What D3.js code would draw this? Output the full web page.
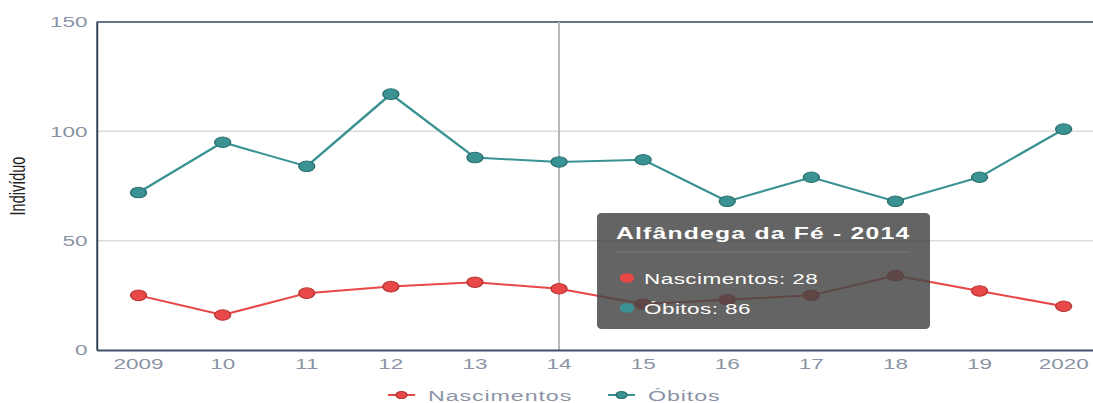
<!DOCTYPE html>
<html>
<head>
<meta charset="utf-8">
<script src="https://cdn.jsdelivr.net/npm/d3@7"></script>
<style>
  body { margin: 0; background: #fff; }
  svg { display: block; font-family: "Liberation Sans", Arial, sans-serif; }
</style>
</head>
<body>
<div id="chart"></div>
<script>
// data
const years = ["2009", "10", "11", "12", "13", "14", "15", "16", "17", "18", "19", "2020"];
const nascimentos = [25, 16, 26, 29, 31, 28, 21, 23, 25, 34, 27, 20];
const obitos = [72, 95, 84, 117, 88, 86, 87, 68, 79, 68, 79, 101];
const yTicks = [0, 50, 100, 150];
const seriesNames = ["Nascimentos", "Óbitos"];
const yLabel = "Indivíduo";
const tooltipTitle = "Alfândega da Fé - 2014";
const hoverIndex = 5;

const colors = {
  Nascimentos: { fill: "#e84848", stroke: "#b83434", line: "#e84848" },
  "Óbitos": { fill: "#3a9292", stroke: "#2c6f6f", line: "#3a9292" }
};
const tickColor = "#8a94a6";

// the original picture is stretched sideways, so draw in a squeezed viewBox
const W = 1093, H = 403, SX = 1.5;
const vw = W / SX;

const svg = d3.select("#chart")
  .append("svg")
  .attr("width", W)
  .attr("height", H)
  .attr("viewBox", `0 0 ${vw} ${H}`)
  .attr("preserveAspectRatio", "none");

const plotLeft = 96.5 / SX, step = 84.1 / SX;
const plotTop = 22, plotBottom = 350;

const x = d3.scaleBand().domain(years).range([plotLeft, plotLeft + step * years.length]);
const cx = d => x(d) + x.bandwidth() / 2;
const y = d3.scaleLinear().domain([0, 150]).range([plotBottom, plotTop]);

// grid
svg.append("g")
  .selectAll("line")
  .data(yTicks.filter(t => t > 0 && t < 150))
  .join("line")
  .attr("x1", plotLeft).attr("x2", vw)
  .attr("y1", d => y(d)).attr("y2", d => y(d))
  .attr("stroke", "#dcdcdc")
  .attr("stroke-width", 1.5);

// top border
svg.append("line")
  .attr("x1", plotLeft).attr("x2", vw)
  .attr("y1", plotTop).attr("y2", plotTop)
  .attr("stroke", "#66768b")
  .attr("stroke-width", 2);

// hover crosshair
svg.append("line")
  .attr("x1", cx(years[hoverIndex])).attr("x2", cx(years[hoverIndex]))
  .attr("y1", plotTop).attr("y2", plotBottom)
  .attr("stroke", "#b4b8be")
  .attr("stroke-width", 1.3);

// axes
const yAxis = svg.append("g")
  .attr("transform", `translate(${plotLeft},0)`)
  .call(d3.axisLeft(y).tickValues(yTicks).tickSize(0).tickPadding(6));
yAxis.select(".domain").attr("stroke", "#2e3f52").attr("stroke-width", 1.3);
yAxis.selectAll("text")
  .attr("font-size", 15)
  .attr("font-family", "Liberation Sans, Arial, sans-serif")
  .attr("fill", tickColor);

const xAxis = svg.append("g")
  .attr("transform", `translate(0,${plotBottom})`)
  .call(d3.axisBottom(x).tickSize(0).tickPadding(8));
xAxis.select(".domain").attr("stroke", "#3e5068").attr("stroke-width", 1.8);
xAxis.selectAll("text")
  .attr("font-size", 15)
  .attr("font-family", "Liberation Sans, Arial, sans-serif")
  .attr("fill", tickColor);

svg.append("text")
  .attr("transform", `translate(${17 / SX},186) rotate(-90)`)
  .attr("text-anchor", "middle")
  .attr("dy", "0.35em")
  .attr("font-size", 14.5)
  .attr("fill", "#222")
  .text(yLabel);

// series
const series = [
  { name: seriesNames[0], values: nascimentos },
  { name: seriesNames[1], values: obitos }
];

const line = d3.line()
  .x((d, i) => cx(years[i]))
  .y(d => y(d));

series.forEach(s => {
  const c = colors[s.name];
  svg.append("path")
    .datum(s.values)
    .attr("fill", "none")
    .attr("stroke", c.line)
    .attr("stroke-width", 2)
    .attr("d", line);

  svg.append("g")
    .selectAll("circle")
    .data(s.values)
    .join("circle")
    .attr("cx", (d, i) => cx(years[i]))
    .attr("cy", d => y(d))
    .attr("r", 5.3)
    .attr("fill", c.fill)
    .attr("stroke", c.stroke)
    .attr("stroke-width", 1);
});

// tooltip
const tip = svg.append("g");
tip.append("rect")
  .attr("x", 597 / SX).attr("y", 213)
  .attr("width", 333 / SX).attr("height", 116)
  .attr("rx", 3).attr("ry", 4)
  .attr("fill", "rgb(70,70,70)")
  .attr("opacity", 0.84);

tip.append("text")
  .attr("x", 616 / SX).attr("y", 239)
  .attr("font-size", 16.5)
  .attr("font-weight", "bold")
  .attr("letter-spacing", 0.8)
  .attr("fill", "#fff")
  .text(tooltipTitle);

tip.append("line")
  .attr("x1", 616 / SX).attr("x2", 910 / SX)
  .attr("y1", 252).attr("y2", 252)
  .attr("stroke", "#777")
  .attr("stroke-width", 1);

series.forEach((s, k) => {
  const c = colors[s.name];
  const ry = 278 + k * 30;
  tip.append("circle")
    .attr("cx", 627 / SX).attr("cy", ry)
    .attr("r", 4.8)
    .attr("fill", c.fill);
  tip.append("text")
    .attr("x", 644 / SX).attr("y", ry + 6)
    .attr("font-size", 15)
    .attr("letter-spacing", 0.3)
    .attr("fill", "#fff")
    .text(`${s.name}: ${s.values[hoverIndex]}`);
});

// legend
const legendX = [388, 608];
series.forEach((s, k) => {
  const c = colors[s.name];
  const g = svg.append("g");
  const lx = legendX[k] / SX;
  g.append("line")
    .attr("x1", lx).attr("x2", lx + 27 / SX)
    .attr("y1", 395).attr("y2", 395)
    .attr("stroke", c.line)
    .attr("stroke-width", 2);
  g.append("circle")
    .attr("cx", lx + 13.5 / SX).attr("cy", 395)
    .attr("r", 3.6)
    .attr("fill", c.fill)
    .attr("stroke", c.stroke)
    .attr("stroke-width", 1);
  g.append("text")
    .attr("x", lx + 40 / SX).attr("y", 401)
    .attr("font-size", 15.5)
    .attr("letter-spacing", 0.6)
    .attr("fill", tickColor)
    .text(s.name);
});
</script>
</body>
</html>
